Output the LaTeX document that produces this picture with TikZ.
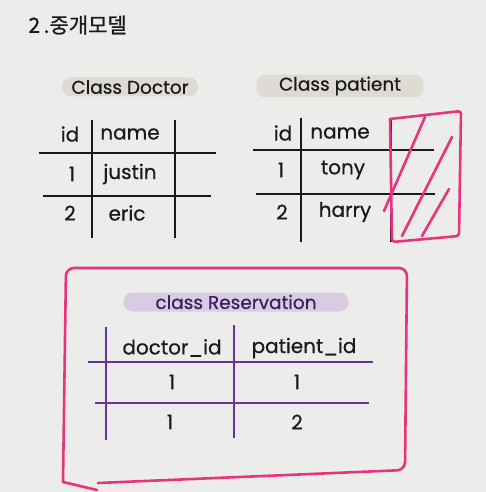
\documentclass[tikz,border=0pt]{standalone}
\usepackage{fontspec}
\setmainfont{Poppins}[FakeBold=0.6]
\newfontfamily\krfont{Noto Sans CJK KR}[FakeBold=1]
\usepackage{tikz}
\usetikzlibrary{calc}
\definecolor{paper}{HTML}{ECECEB}
\definecolor{inkx}{HTML}{1A1A1A}
\definecolor{pillgray}{HTML}{DDDBD3}
\definecolor{pinkx}{HTML}{E8337D}
\definecolor{purplex}{HTML}{6A3399}
\definecolor{lilac}{HTML}{D8CCE2}
\definecolor{grape}{HTML}{3E1D60}
\tikzset{
  grid/.style={line width=1.7pt,inkx},
  pgrid/.style={line width=1.7pt,purplex},
  marker/.style={line width=2.6pt,pinkx,line cap=round,line join=round},
  cell/.style={font=\fontsize{20}{22}\selectfont,text=inkx,inner sep=1pt},
  pill/.style={fill=pillgray,rounded corners=9pt,minimum height=19pt,inner sep=2pt,
    font=\fontsize{18.5}{20}\selectfont,text=inkx}
}
\begin{document}
\begin{tikzpicture}[x=1pt,y=-1pt]
\fill[paper] (0,0) rectangle (486,492);
\useasboundingbox (0,0) rectangle (486,492);
\node[text=inkx,font=\fontsize{21}{23}\selectfont\krfont,anchor=west] (title) at (25,25) {2\,.중개모델};

% Class Doctor
\node[pill,minimum width=136pt] (dlbl) at (130,87) {Class Doctor};
\draw[grid] (92,120) -- (92,238) (175,120) -- (175,238);
\draw[grid] (39,153) -- (216,153) (43,196) -- (211,196);
\node[cell] (did) at (70,134) {id};
\node[cell] (dname) at (130,134) {name};
\node[cell] (d1) at (72,174) {1};
\node[cell] (djustin) at (130,174) {justin};
\node[cell] (d2) at (70,213) {2};
\node[cell] (deric) at (127,213) {eric};

% Class patient
\node[pill,minimum width=167pt] (plbl) at (340,86) {Class patient};
\draw[grid] (301,118) -- (301,242) (391,118) -- (391,242);
\draw[grid] (253,150) -- (434,150) (256,194) -- (435,194);
\node[cell] (pid) at (283,133) {id};
\node[cell] (pname) at (340,133) {name};
\node[cell] (p1) at (281,170) {1};
\node[cell] (ptony) at (343,170) {tony};
\node[cell] (p2) at (282,212) {2};
\node[cell] (pharry) at (345,212) {harry};
\draw[marker,rounded corners=3pt] (390,119) -- (461,111) -- (459,236) -- (392,242) -- (390,119);
\draw[marker] (384,211) -- (425,117);
\draw[marker] (402,236) -- (452,137);
\draw[marker] (422,236) -- (449,189);

% class Reservation
\draw[marker,rounded corners=8pt] (98,483) -- (405,470) -- (407,268) -- (66,268) -- (63,482);
\draw[marker] (63,482) -- (97,490);
\node[pill,fill=lilac,text=grape,minimum width=225pt] (rlbl) at (236,302) {class Reservation};
\draw[pgrid] (106,327) -- (106,440) (234,325) -- (234,438);
\draw[pgrid] (88,362) -- (373,362) (95,403) -- (369,403);
\node[cell] (rdoc) at (172,348) {doctor\_id};
\node[cell] (rpat) at (304,348) {patient\_id};
\node[cell] (r11) at (172,382) {1};
\node[cell] (r12) at (297,382) {1};
\node[cell] (r21) at (170,422) {1};
\node[cell] (r22) at (297,422) {2};
\end{tikzpicture}
\end{document}
